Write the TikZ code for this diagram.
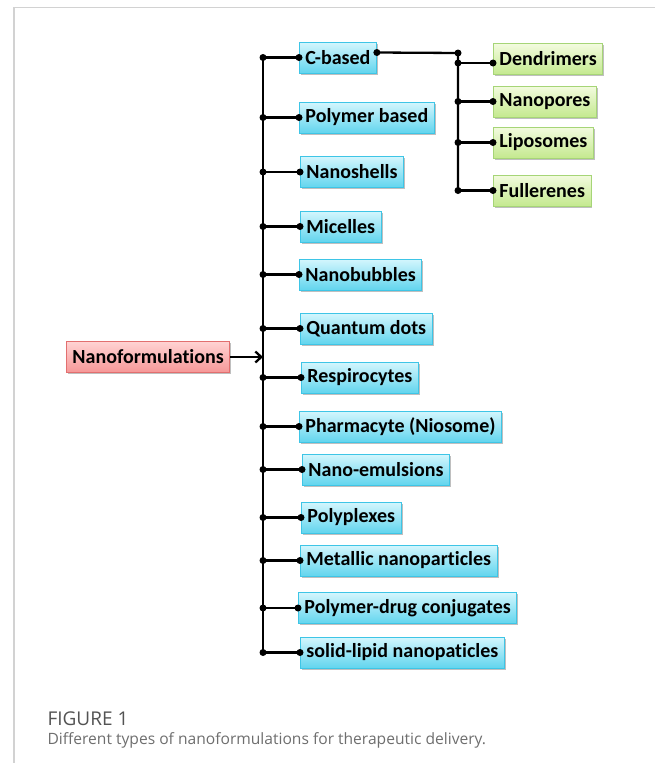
\documentclass[tikz,border=0pt]{standalone}
\usepackage{fontspec}
\setmainfont{Carlito}[Ligatures=NoCommon]
\newfontfamily\capfont{Open Sans}
\usetikzlibrary{shadows,arrows.meta}

\definecolor{cyantop}{HTML}{D4F6FD}
\definecolor{cyanbot}{HTML}{62D5EE}
\definecolor{cyanline}{HTML}{3EC5E6}
\definecolor{greentop}{HTML}{F3FBDF}
\definecolor{greenbot}{HTML}{C4E98F}
\definecolor{greenline}{HTML}{A6D577}
\definecolor{redtop}{HTML}{FFD3D3}
\definecolor{redbot}{HTML}{F69797}
\definecolor{redline}{HTML}{E26F6F}
\definecolor{framegray}{HTML}{D2D2D2}
\definecolor{capgray}{HTML}{6E6E6E}

\begin{document}
\begin{tikzpicture}[x=1pt,y=-1pt,
    box/.style={anchor=west,line width=0.9pt,minimum height=31pt,inner xsep=6pt,
      font=\fontsize{20}{22}\selectfont\bfseries,
      drop shadow={shadow xshift=1.5pt,shadow yshift=-1.5pt,opacity=0.25,fill=black}},
    kind/.style={box,draw=cyanline,top color=cyantop,bottom color=cyanbot},
    sort/.style={box,draw=greenline,top color=greentop,bottom color=greenbot},
    root/.style={box,draw=redline,top color=redtop,bottom color=redbot},
    dot/.style={circle,fill,inner sep=0pt,minimum size=7pt},
    link/.style={line width=2.3pt},
    caption/.style={anchor=base west,font=\capfont\fontsize{15.6}{18}\selectfont}]
  \useasboundingbox (0,0) rectangle (655,763);
  \draw[framegray,line width=1.5pt] (14,763) -- (14,7.5) -- (655,7.5);

  \node[root] (nf) at (66,357) {Nanoformulations};

  \node[kind] (cb) at (299,57.5) {C-based};
  \node[kind] (pb) at (299,117.5) {Polymer based};
  \node[kind] (ns) at (300,172) {Nanoshells};
  \node[kind] (mi) at (300,226.5) {Micelles};
  \node[kind] (nb) at (299,274.5) {Nanobubbles};
  \node[kind] (qd) at (300,328.5) {Quantum dots};
  \node[kind] (rc) at (301,377.5) {Respirocytes};
  \node[kind] (ph) at (299,426.5) {Pharmacyte (Niosome)};
  \node[kind] (ne) at (302,469.5) {Nano-emulsions};
  \node[kind] (pp) at (301,517.5) {Polyplexes};
  \node[kind] (mn) at (300,560.5) {Metallic nanoparticles};
  \node[kind] (pd) at (298,608) {Polymer-drug conjugates};
  \node[kind] (sl) at (300,652.5) {solid-lipid nanopaticles};

  \node[sort] (dn) at (493,59) {Dendrimers};
  \node[sort] (np) at (493,101.5) {Nanopores};
  \node[sort] (lp) at (493,142.5) {Liposomes};
  \node[sort] (fu) at (493,190.5) {Fullerenes};

  % trunk and branches
  \coordinate (trunk) at (263,0);
  \coordinate (fork) at (458,53);
  \draw[link] (cb.west -| trunk) -- (sl.west -| trunk);
  \draw[link,-{Straight Barb[length=6pt,width=11pt]}] (nf.east) -- (nf.east -| trunk);
  \foreach \n in {cb,pb,ns,mi,nb,qd,rc,ph,ne,pp,mn,pd,sl}
    \draw[link] (\n.west -| trunk) node[dot] {} -- (\n.west) node[dot] {};

  % carbon based group
  \draw[link] ([yshift=5pt]cb.east) node[dot] {} -- (fork) node[dot] {} -- (fu.west -| fork);
  \draw[link] ([yshift=-4pt]dn.west -| fork) node[dot] {} -- ([yshift=-4pt]dn.west) node[dot] {};
  \foreach \n in {np,lp,fu}
    \draw[link] (\n.west -| fork) node[dot] {} -- (\n.west) node[dot] {};

  \node[caption,font=\capfont\fontsize{19}{20}\selectfont,text=capgray!75!black] (fig) at (44,725) {FIGURE 1};
  \node[caption,text=capgray] (cap) at (44,744) {Different types of nanoformulations for therapeutic delivery.};
\end{tikzpicture}
\end{document}
